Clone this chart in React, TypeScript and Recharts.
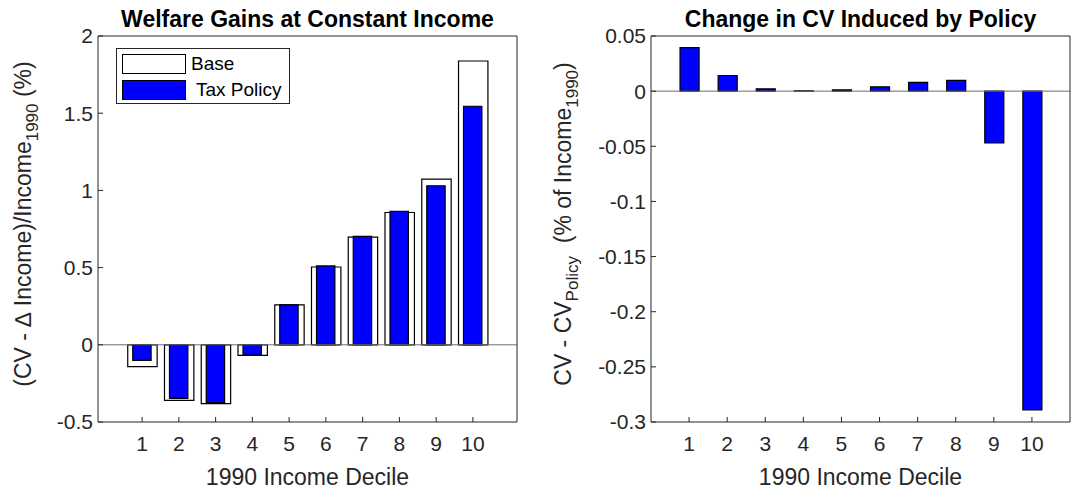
import React from "react";
import { Bar, BarChart, Legend, ReferenceLine, XAxis, YAxis } from "recharts";

document.body.style.margin = "0";

const deciles = [1, 2, 3, 4, 5, 6, 7, 8, 9, 10];
const baseGain = [-0.142, -0.36, -0.381, -0.069, 0.258, 0.504, 0.698, 0.857, 1.073, 1.838];
const taxGain = [-0.101, -0.347, -0.375, -0.067, 0.258, 0.511, 0.702, 0.864, 1.03, 1.545];
const cvChange = [0.0394, 0.0142, 0.0021, 0.0003, 0.0012, 0.0039, 0.0079, 0.0097, -0.047, -0.289];

const leftTicks = [-0.5, 0, 0.5, 1, 1.5, 2];
const rightTicks = [-0.3, -0.25, -0.2, -0.15, -0.1, -0.05, 0, 0.05];
const seriesNames = ["Base", " Tax Policy"];

const leftData = deciles.map((d, i) => ({ decile: d, base: baseGain[i], tax: taxGain[i] }));
const rightData = deciles.map((d, i) => ({ decile: d, cv: cvChange[i] }));

const FONT = "'Liberation Sans', Arial, Helvetica, sans-serif";
const INK = "#262626";
const BLUE = "#0000ff";
const tickStyle = { fontFamily: FONT, fontSize: 21, fill: INK };
const labelStyle = { fontFamily: FONT, fontSize: 23, fill: INK };
const titleStyle = { fontFamily: FONT, fontSize: 23, fontWeight: "bold", fill: "#000" };

function LeftYTitle(props: any) {
  const vb = props.viewBox ?? { x: 0, y: 36, width: 98, height: 386 };
  const cx = vb.x + 31;
  const cy = vb.y + vb.height / 2 - 5;
  return (
    <text x={cx} y={cy} transform={`rotate(-90 ${cx} ${cy})`} textAnchor="middle" style={labelStyle}>
      (CV - ∆ Income)/Income<tspan dy={7} fontSize={17}>1990</tspan>
      <tspan dy={-7}> (%)</tspan>
    </text>
  );
}

function RightYTitle(props: any) {
  const vb = props.viewBox ?? { x: 0, y: 36, width: 111, height: 386 };
  const cx = vb.x + 31;
  const cy = vb.y + vb.height / 2 - 5;
  return (
    <text x={cx} y={cy} transform={`rotate(-90 ${cx} ${cy})`} textAnchor="middle" style={labelStyle}>
      CV - CV<tspan dy={7} fontSize={17}>Policy</tspan>
      <tspan dy={-7} xmlSpace="preserve">{"  (% of Income"}</tspan>
      <tspan dy={7} fontSize={17}>1990</tspan>
      <tspan dy={-7}>)</tspan>
    </text>
  );
}

function LegendBox(props: any) {
  const items = [...(props.payload ?? [])].sort(
    (a: any, b: any) => seriesNames.indexOf(a.value) - seriesNames.indexOf(b.value),
  );
  return (
    <div
      style={{
        border: `1px solid ${INK}`,
        background: "#fff",
        width: 174,
        padding: "2px 0 0 5px",
        boxSizing: "border-box",
        height: 56,
        fontFamily: FONT,
        fontSize: 19,
        color: "#000",
      }}
    >
      {items.map((it: any) => (
        <div key={it.value} style={{ display: "flex", alignItems: "center", height: 25.7 }}>
          <span
            style={{
              display: "inline-block",
              width: 62,
              height: 18,
              background: it.payload?.fill ?? it.color,
              border: "1px solid #000",
            }}
          />
          <span style={{ whiteSpace: "pre", marginLeft: 5 }}>{it.value}</span>
        </div>
      ))}
    </div>
  );
}

const leftDomain: [number, number] = [-0.2, 11.2];
const rightDomain: [number, number] = [0, 11];

function WelfareChart() {
  const plotW = 540 - 98 - 23;
  const unit = plotW / (leftDomain[1] - leftDomain[0]);
  return (
    <BarChart width={540} height={491} data={leftData} margin={{ top: 35, right: 22, bottom: 0, left: 0 }}>
      <XAxis
        xAxisId="base"
        dataKey="decile"
        type="number"
        domain={leftDomain}
        ticks={deciles}
        interval={0}
        height={69}
        tickSize={-5}
        tickMargin={19}
        tick={tickStyle}
        axisLine={{ stroke: INK }}
        tickLine={{ stroke: INK }}
        label={{ value: "1990 Income Decile", position: "insideBottom", offset: 6, style: labelStyle }}
      />
      <XAxis xAxisId="tax" dataKey="decile" type="number" domain={leftDomain} ticks={deciles} hide />
      <XAxis
        xAxisId="top"
        orientation="top"
        dataKey="decile"
        type="number"
        domain={leftDomain}
        ticks={deciles}
        interval={0}
        height={1}
        tickSize={-5}
        tick={false}
        axisLine={{ stroke: INK }}
        tickLine={{ stroke: INK }}
        label={{ value: "Welfare Gains at Constant Income", position: "top", offset: 8, style: titleStyle }}
      />
      <YAxis
        yAxisId="y"
        type="number"
        domain={[-0.5, 2]}
        ticks={leftTicks}
        interval={0}
        width={98}
        tickSize={-5}
        tickMargin={10}
        tick={tickStyle}
        axisLine={{ stroke: INK }}
        tickLine={{ stroke: INK }}
        label={<LeftYTitle />}
      />
      <YAxis
        yAxisId="r"
        orientation="right"
        type="number"
        domain={[-0.5, 2]}
        ticks={leftTicks}
        interval={0}
        width={1}
        tickSize={-5}
        tick={false}
        axisLine={{ stroke: INK }}
        tickLine={{ stroke: INK }}
      />
      <Legend
        layout="horizontal"
        verticalAlign="middle"
        align="center"
        wrapperStyle={{ left: 116, top: 48, width: 174, height: 56 }}
        content={<LegendBox />}
      />
      <Bar
        xAxisId="base"
        yAxisId="y"
        dataKey="base"
        name={seriesNames[0]}
        fill="#ffffff"
        stroke="#000"
        strokeWidth={1.2}
        barSize={unit * 0.8}
        isAnimationActive={false}
      />
      <Bar
        xAxisId="tax"
        yAxisId="y"
        dataKey="tax"
        name={seriesNames[1]}
        fill={BLUE}
        stroke="#000"
        strokeWidth={1.2}
        barSize={unit * 0.5}
        isAnimationActive={false}
      />
      <ReferenceLine xAxisId="base" yAxisId="y" y={0} stroke="#6e6e6e" strokeWidth={1} />
    </BarChart>
  );
}

function PolicyChart() {
  const plotW = 533 - 111 - 3;
  const unit = plotW / (rightDomain[1] - rightDomain[0]);
  return (
    <BarChart width={533} height={491} data={rightData} margin={{ top: 35, right: 2, bottom: 0, left: 0 }}>
      <XAxis
        xAxisId="b"
        dataKey="decile"
        type="number"
        domain={rightDomain}
        ticks={deciles}
        interval={0}
        height={69}
        tickSize={-5}
        tickMargin={19}
        tick={tickStyle}
        axisLine={{ stroke: INK }}
        tickLine={{ stroke: INK }}
        label={{ value: "1990 Income Decile", position: "insideBottom", offset: 6, style: labelStyle }}
      />
      <XAxis
        xAxisId="top"
        orientation="top"
        dataKey="decile"
        type="number"
        domain={rightDomain}
        ticks={deciles}
        interval={0}
        height={1}
        tickSize={-5}
        tick={false}
        axisLine={{ stroke: INK }}
        tickLine={{ stroke: INK }}
        label={{ value: "Change in CV Induced by Policy", position: "top", offset: 8, style: titleStyle }}
      />
      <YAxis
        yAxisId="y"
        type="number"
        domain={[-0.3, 0.05]}
        ticks={rightTicks}
        interval={0}
        width={111}
        tickSize={-5}
        tickMargin={10}
        tick={tickStyle}
        axisLine={{ stroke: INK }}
        tickLine={{ stroke: INK }}
        label={<RightYTitle />}
      />
      <YAxis
        yAxisId="r"
        orientation="right"
        type="number"
        domain={[-0.3, 0.05]}
        ticks={rightTicks}
        interval={0}
        width={1}
        tickSize={-5}
        tick={false}
        axisLine={{ stroke: INK }}
        tickLine={{ stroke: INK }}
      />
      <Bar
        xAxisId="b"
        yAxisId="y"
        dataKey="cv"
        fill={BLUE}
        stroke="#000"
        strokeWidth={1.2}
        barSize={unit * 0.5}
        isAnimationActive={false}
      />
      <ReferenceLine xAxisId="b" yAxisId="y" y={0} stroke="#6e6e6e" strokeWidth={1} />
    </BarChart>
  );
}

export default function App() {
  return (
    <div style={{ display: "flex", width: 1073, height: 491, background: "#fff" }}>
      <WelfareChart />
      <PolicyChart />
    </div>
  );
}
